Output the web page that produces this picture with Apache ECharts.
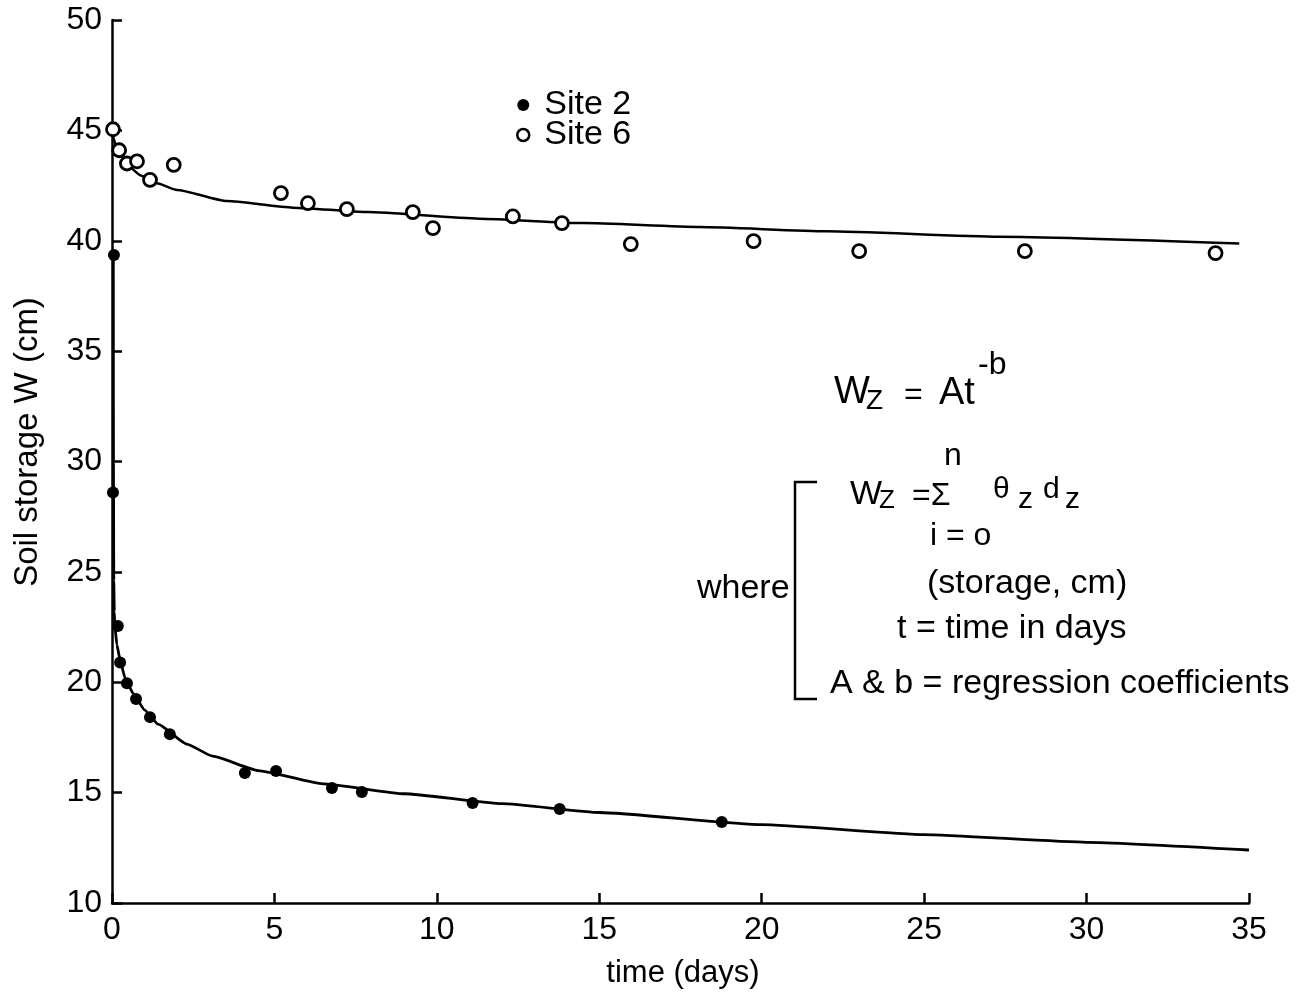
<!DOCTYPE html>
<html><head><meta charset="utf-8">
<script src="https://cdn.jsdelivr.net/npm/echarts@6/dist/echarts.min.js"></script>
<style>html,body{margin:0;padding:0;background:#fff}#c{width:1313px;height:1000px}</style>
</head><body><div id="c"></div>
<script>
const xTicks = [0,5,10,15,20,25,30,35];
const yTicks = [10,15,20,25,30,35,40,45,50];

const site2Points = [
  [0.06,39.35],[0.03,28.6],[0.18,22.55],[0.25,20.9],[0.46,19.96],[0.74,19.24],
  [1.17,18.42],[1.78,17.65],[4.09,15.89],[5.05,15.98],[6.77,15.21],[7.69,15.03],
  [11.1,14.53],[13.78,14.26],[18.77,13.67]
];
const site6Points = [
  [0.03,45.05],[0.22,44.1],[0.46,43.5],[0.77,43.6],[1.17,42.76],[1.9,43.44],
  [5.2,42.16],[6.03,41.7],[7.23,41.43],[9.26,41.3],[9.88,40.57],[12.34,41.1],
  [13.85,40.8],[15.97,39.85],[19.75,39.98],[23.0,39.53],[28.1,39.53],[33.97,39.44]
];
const site2Curve = [
  [0.04,39.3],[0.045,30.0],[0.055,24.6],[0.07,23.2],[0.09,22.5],[0.15,21.7],[0.25,21.0],
  [0.4,20.2],[0.65,19.5],[1.0,18.75],[1.42,18.1],[2.3,17.2],[3.1,16.65],[4.5,16.0],
  [6.5,15.4],[9.0,14.95],[12.0,14.5],[15.0,14.1],[20.0,13.55],[25.0,13.1],[30.0,12.75],[35.0,12.4]
];
const site6Curve = [
  [0.0,44.9],[0.18,44.13],[0.46,43.42],[0.9,42.95],[1.38,42.6],[2.0,42.3],[3.54,41.8],
  [5.57,41.5],[7.85,41.3],[11.3,41.0],[14.5,40.8],[18.1,40.62],[22.0,40.43],
  [27.3,40.18],[34.7,39.87]
];
const legendNames = ['Site 2','Site 6'];

const FONT = '"Liberation Sans", Arial, sans-serif';
const chart = echarts.init(document.getElementById('c'));
const T = (x, y, s, size) => ({type:'text', x:x, y:y,
  style:{text:s, font: size + 'px ' + FONT, fill:'#000', verticalAlign:'middle'}});

chart.setOption({
  animation:false,
  backgroundColor:'#fff',
  grid:{left:112, right:64, top:20, bottom:97},
  legend:{
    orient:'vertical', left:511, top:83, itemGap:-4,
    itemWidth:12, itemHeight:12,
    textStyle:{fontFamily:FONT, fontSize:34, color:'#000', lineHeight:30, padding:[0,0,0,10]},
    data:[
      {name:legendNames[0], icon:'circle', itemStyle:{color:'#000', borderWidth:0, opacity:1}},
      {name:legendNames[1], icon:'circle', itemStyle:{color:'#fff', borderColor:'#000', borderWidth:2.5, opacity:1}}
    ]
  },
  xAxis:{
    type:'value', min:xTicks[0], max:xTicks[xTicks.length-1], interval:5,
    axisLine:{lineStyle:{color:'#000', width:2.5}},
    axisTick:{inside:true, length:10, lineStyle:{color:'#000', width:2.5}},
    axisLabel:{color:'#000', fontFamily:FONT, fontSize:32, margin:11},
    splitLine:{show:false}
  },
  yAxis:{
    type:'value', min:yTicks[0], max:yTicks[yTicks.length-1], interval:5,
    axisLine:{lineStyle:{color:'#000', width:2.5}},
    axisTick:{inside:true, length:10, lineStyle:{color:'#000', width:2.5}},
    axisLabel:{color:'#000', fontFamily:FONT, fontSize:32, margin:10},
    splitLine:{show:false}
  },
  series:[
    {type:'line', data:site6Curve, showSymbol:false, smooth:0.2, smoothMonotone:'x',
     lineStyle:{color:'#000', width:2.5}, silent:true, z:2},
    {type:'line', data:site2Curve, showSymbol:false, smooth:0.15, smoothMonotone:'x',
     lineStyle:{color:'#000', width:2.8}, silent:true, z:2},
    {name:legendNames[0], type:'scatter', data:site2Points, symbol:'circle', symbolSize:12,
     itemStyle:{color:'#000', opacity:1}, z:3},
    {name:legendNames[1], type:'scatter', data:site6Points, symbol:'circle', symbolSize:13,
     itemStyle:{color:'#fff', borderColor:'#000', borderWidth:2.8, opacity:1}, z:3}
  ],
  graphic:[
    {type:'text', x:28, y:442, rotation:Math.PI/2,
      style:{text:'Soil storage W (cm)', font:'33px '+FONT, fill:'#000', align:'center', verticalAlign:'middle'}},
    {type:'text', x:683, y:973, style:{text:'time (days)', font:'31px '+FONT, fill:'#000', align:'center', verticalAlign:'middle'}},
    // Wz = At^-b
    T(834, 393, 'W', 38),
    T(866, 401, 'Z', 28),
    T(904, 395, '=', 32),
    T(939, 394, 'At', 38),
    T(978, 365, '-b', 32),
    // summation
    T(944, 456, 'n', 32),
    T(850, 495, 'W', 34),
    T(879, 501, 'Z', 26),
    T(912, 496, '=Σ', 32),
    T(993, 490, 'θ', 30),
    T(1018, 500, 'z', 30),
    T(1043, 490, 'd', 30),
    T(1065, 500, 'z', 30),
    T(930, 536, 'i = o', 32),
    T(927, 584, '(storage, cm)', 34),
    T(697, 589, 'where', 34),
    T(897, 629, 't = time in days', 34),
    T(830, 684, 'A & b = regression coefficients', 34),
    {type:'polyline', shape:{points:[[817,482],[795,482],[795,699],[817,699]]},
      style:{stroke:'#000', lineWidth:2.5, fill:null}}
  ]
});
</script></body></html>
